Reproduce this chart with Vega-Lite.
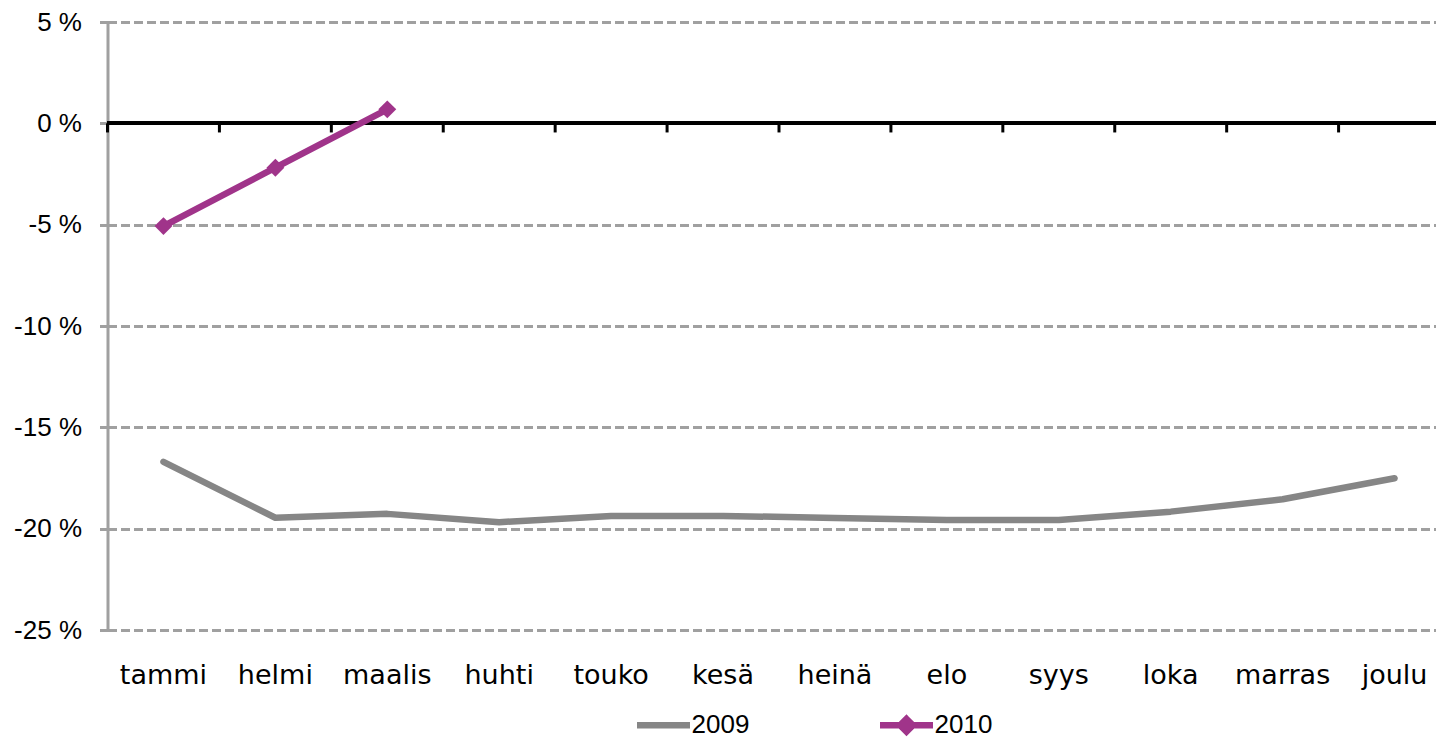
{
  "$schema": "https://vega.github.io/schema/vega-lite/v6.json",
  "autosize": "none",
  "padding": {"left": 107.5, "top": 22, "right": 0, "bottom": 110},
  "width": 1343,
  "height": 608,
  "background": "white",
  "data": {
    "values": [
      {"month": "tammi", "year": "2009", "value": -16.7},
      {"month": "helmi", "year": "2009", "value": -19.46},
      {"month": "maalis", "year": "2009", "value": -19.27},
      {"month": "huhti", "year": "2009", "value": -19.68},
      {"month": "touko", "year": "2009", "value": -19.37},
      {"month": "kesä", "year": "2009", "value": -19.37},
      {"month": "heinä", "year": "2009", "value": -19.47},
      {"month": "elo", "year": "2009", "value": -19.57},
      {"month": "syys", "year": "2009", "value": -19.57},
      {"month": "loka", "year": "2009", "value": -19.16},
      {"month": "marras", "year": "2009", "value": -18.55},
      {"month": "joulu", "year": "2009", "value": -17.51},
      {"month": "tammi", "year": "2010", "value": -5.07},
      {"month": "helmi", "year": "2010", "value": -2.19},
      {"month": "maalis", "year": "2010", "value": 0.69}
    ]
  },
  "config": {
    "view": {"stroke": null},
    "font": "Liberation Sans",
    "axis": {"labelFont": "Liberation Sans", "labelFontSize": 26, "labelColor": "black"}
  },
  "layer": [
    {
      "mark": {"type": "rule", "color": "black", "strokeWidth": 3.5},
      "encoding": {
        "y": {
          "datum": 0, "type": "quantitative",
          "scale": {"domain": [-25, 5], "nice": false, "zero": false},
          "axis": {
            "title": null, "values": [-25, -20, -15, -10, -5, 0, 5],
            "labelExpr": "datum.value + ' %'",
            "labelFontSize": 26, "labelFont": "Liberation Sans", "labelColor": "black",
            "domain": true, "domainColor": "#A0A0A0", "domainWidth": 3,
            "ticks": true, "tickColor": "#A0A0A0", "tickWidth": 3, "tickSize": 8,
            "labelPadding": 18,
            "grid": true, "gridColor": "#A0A0A0", "gridWidth": 3, "gridDash": [9, 4]
          }
        }
      }
    },
    {
      "transform": [{"filter": "datum.year == '2009'"}],
      "mark": {"type": "rule", "color": "black", "strokeWidth": 3},
      "encoding": {
        "x": {
          "field": "month", "type": "nominal", "bandPosition": 0,
          "scale": {"type": "band", "paddingInner": 0, "paddingOuter": 0,
            "domain": ["tammi", "helmi", "maalis", "huhti", "touko", "kesä", "heinä", "elo", "syys", "loka", "marras", "joulu"]},
          "axis": {"title": null, "domain": false, "ticks": false, "grid": false, "labelAngle": 0, "labelPadding": 32,
            "labelFontSize": 27, "labelFont": "DejaVu Sans", "labelColor": "black"}
        },
        "y": {"datum": 0, "type": "quantitative"},
        "y2": {"datum": -0.45}
      }
    },
    {
      "mark": {"type": "line", "strokeWidth": 6.5, "strokeCap": "round", "strokeJoin": "round"},
      "encoding": {
        "x": {"field": "month", "type": "nominal", "bandPosition": 0.5},
        "y": {"field": "value", "type": "quantitative"},
        "color": {
          "field": "year", "type": "nominal",
          "scale": {"domain": ["2009", "2010"], "range": ["#868686", "#A0348A"]},
          "legend": {
            "title": null, "orient": "none", "direction": "horizontal",
            "legendX": 526, "legendY": 673,
            "labelFontSize": 26, "labelFont": "Liberation Sans", "labelOffset": -2, "labelColor": "black",
            "symbolSize": 2809, "symbolStrokeWidth": 6.5,
            "columnPadding": 117,
            "encode": {
              "symbols": {
                "update": {
                  "shape": {"signal": "datum.value == '2010' ? 'M-1,0L1,0M0,-0.24L0.24,0L0,0.24L-0.24,0Z' : 'M-1,0L1,0M0,-0.24L0,-0.24M0,0.24L0,0.24'"},
                  "fill": {"signal": "datum.value == '2010' ? '#A0348A' : 'transparent'"},
                  "strokeCap": {"value": "butt"}
                }
              }
            }
          }
        }
      }
    },
    {
      "transform": [{"filter": "datum.year == '2010'"}],
      "mark": {"type": "point", "shape": "diamond", "filled": true, "size": 320, "opacity": 1},
      "encoding": {
        "x": {"field": "month", "type": "nominal", "bandPosition": 0.5},
        "y": {"field": "value", "type": "quantitative"},
        "color": {"field": "year", "type": "nominal", "legend": null}
      }
    }
  ]
}
